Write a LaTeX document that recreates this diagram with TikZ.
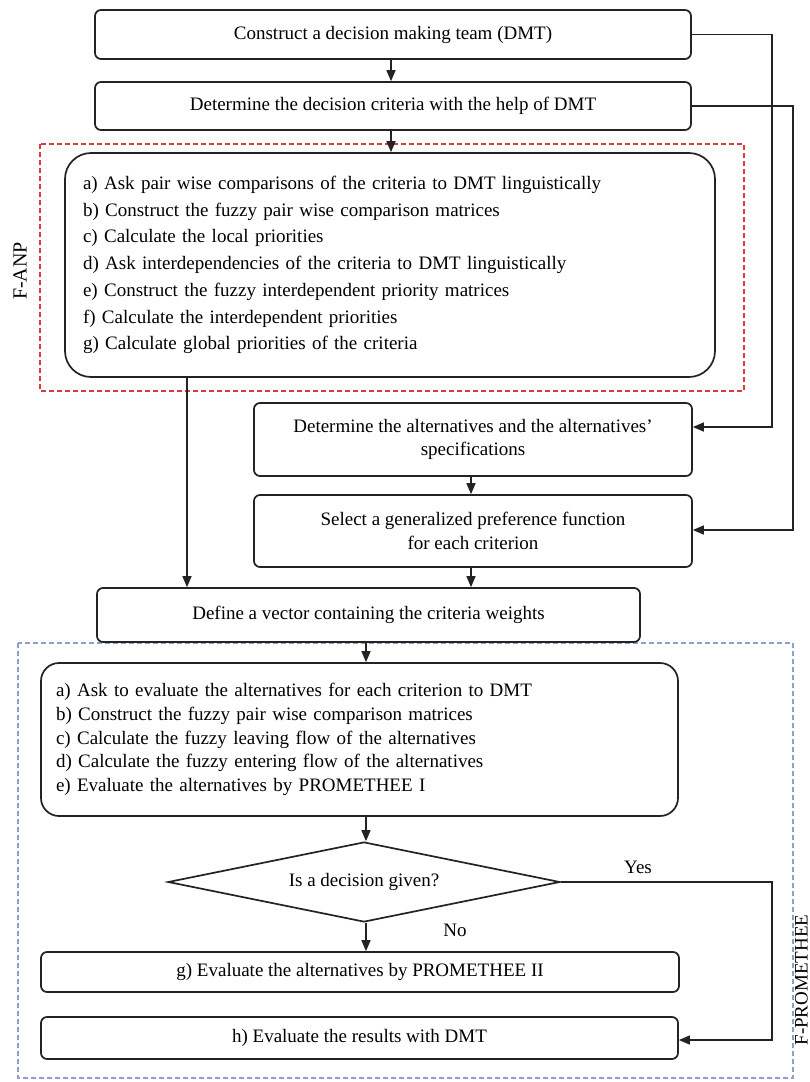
\documentclass[tikz,border=0pt]{standalone}
\usepackage{fontspec}
\setmainfont{Liberation Serif}
\usetikzlibrary{arrows.meta,shapes.geometric}
\definecolor{boxline}{RGB}{35,35,35}
\definecolor{anpred}{RGB}{215,60,60}
\definecolor{promblue}{RGB}{140,160,205}
\tikzset{
  txt/.style={font=\fontsize{19}{23}\selectfont},
  rbox/.style={draw=boxline, line width=1.7pt, rounded corners=6pt, fill=white, inner sep=0pt, align=center, txt},
  listbox/.style={draw=boxline, line width=1.7pt, fill=white, inner ysep=0pt, align=left},
  conn/.style={draw=boxline, line width=1.4pt, -{Triangle[length=11pt,width=9pt]}},
  frameanp/.style={draw=anpred, line width=1.3pt, dash pattern=on 5pt off 3pt},
  frameprom/.style={draw=promblue, line width=1.3pt, dash pattern=on 5pt off 3pt},
  sidelabel/.style={rotate=90, inner sep=0pt}
}
\begin{document}
\begin{tikzpicture}[x=1pt,y=-1pt]
\useasboundingbox (0,0) rectangle (810,1082);
\fill[white] (0,0) rectangle (810,1082);

% frames
\draw[frameanp] (40,144) rectangle (744,391);
\draw[frameprom] (18,643) rectangle (793,1078);

% top boxes
\node[rbox, minimum width=596pt, minimum height=49pt] (b1) at (393,34.5) {Construct a decision making team (DMT)};
\node[rbox, minimum width=596pt, minimum height=48pt] (b2) at (393,106) {Determine the decision criteria with the help of DMT};

% F-ANP box
\node[listbox, rounded corners=26pt, minimum width=650pt, minimum height=224pt, text width=614pt, inner xsep=18pt,
      font=\fontsize{19}{26.7}\selectfont] (anp) at (390,265)
 {a) Ask pair wise comparisons of the criteria to DMT linguistically\\
  b) Construct the fuzzy pair wise comparison matrices\\
  c) Calculate the local priorities\\
  d) Ask interdependencies of the criteria to DMT linguistically\\
  e) Construct the fuzzy interdependent priority matrices\\
  f) Calculate the interdependent priorities\\
  g) Calculate global priorities of the criteria};
\node[sidelabel, font=\fontsize{20}{24}\selectfont] (lanp) at (20,271) {F-ANP};

% alternatives and preference function
\node[rbox, minimum width=438pt, minimum height=73pt, font=\fontsize{19}{23.5}\selectfont] (alt) at (473,439.5)
 {Determine the alternatives and the alternatives'\\specifications};
\node[rbox, minimum width=438pt, minimum height=72pt, font=\fontsize{19}{24}\selectfont] (sel) at (473,531)
 {Select a generalized preference function\\for each criterion};

% define vector
\node[rbox, minimum width=543pt, minimum height=54pt] (def) at (368.5,615) {Define a vector containing the criteria weights};

% PROMETHEE box
\node[listbox, rounded corners=18pt, minimum width=637pt, minimum height=153pt, text width=607pt, inner xsep=15pt,
      font=\fontsize{19}{23.75}\selectfont] (prom) at (359.5,739.5)
 {a) Ask to evaluate the alternatives for each criterion to DMT\\
  b) Construct the fuzzy pair wise comparison matrices\\
  c) Calculate the fuzzy leaving flow of the alternatives\\
  d) Calculate the fuzzy entering flow of the alternatives\\
  e) Evaluate the alternatives by PROMETHEE I};

% decision
\node[diamond, draw=boxline, line width=1.7pt, fill=white, minimum width=392pt, minimum height=80pt, aspect=4.9, inner sep=0pt, txt] (dec) at (364,882) {Is a decision given?};

\node[rbox, minimum width=638pt, minimum height=40pt] (g) at (360,972) {g) Evaluate the alternatives by PROMETHEE II};
\node[rbox, minimum width=637pt, minimum height=42pt] (h) at (359.5,1038) {h) Evaluate the results with DMT};

\node[sidelabel, font=\fontsize{19}{23}\selectfont] (lprom) at (801.5,980) {F-PROMETHEE};

% labels
\node[txt, inner sep=0pt] (yes) at (638,867) {Yes};
\node[txt, inner sep=0pt] (no) at (455,930) {No};

% coordinates for connectors
\coordinate (c1a) at (772,34.5);
\coordinate (c1b) at (772,427);
\coordinate (c2a) at (793,106);
\coordinate (c2b) at (793,530);
\coordinate (cya) at (772,882);
\coordinate (cyb) at (772,1040);

% connectors
\draw[conn] (b1.south -| 391,0) -- (b2.north -| 391,0);
\draw[conn] (b2.south -| 391,0) -- (anp.north -| 391,0);
\draw[conn] (b1.east) -- (c1a) -- (c1b) -- (alt.east |- c1b);
\draw[conn] (b2.east |- c2a) -- (c2a) -- (c2b) -- (sel.east |- c2b);
\draw[conn] (alt.south -| 471,0) -- (sel.north -| 471,0);
\draw[conn] (sel.south -| 471,0) -- (def.north -| 471,0);
\draw[conn] (anp.south -| 187,0) -- (def.north -| 187,0);
\draw[conn] (def.south -| 366,0) -- (prom.north -| 366,0);
\draw[conn] (prom.south -| 366,0) -- (dec.north -| 366,0);
\draw[conn] (dec.south -| 366,0) -- (g.north -| 366,0);
\draw[conn] (dec.east) -- (cya) -- (cyb) -- (h.east |- cyb);
\end{tikzpicture}
\end{document}
